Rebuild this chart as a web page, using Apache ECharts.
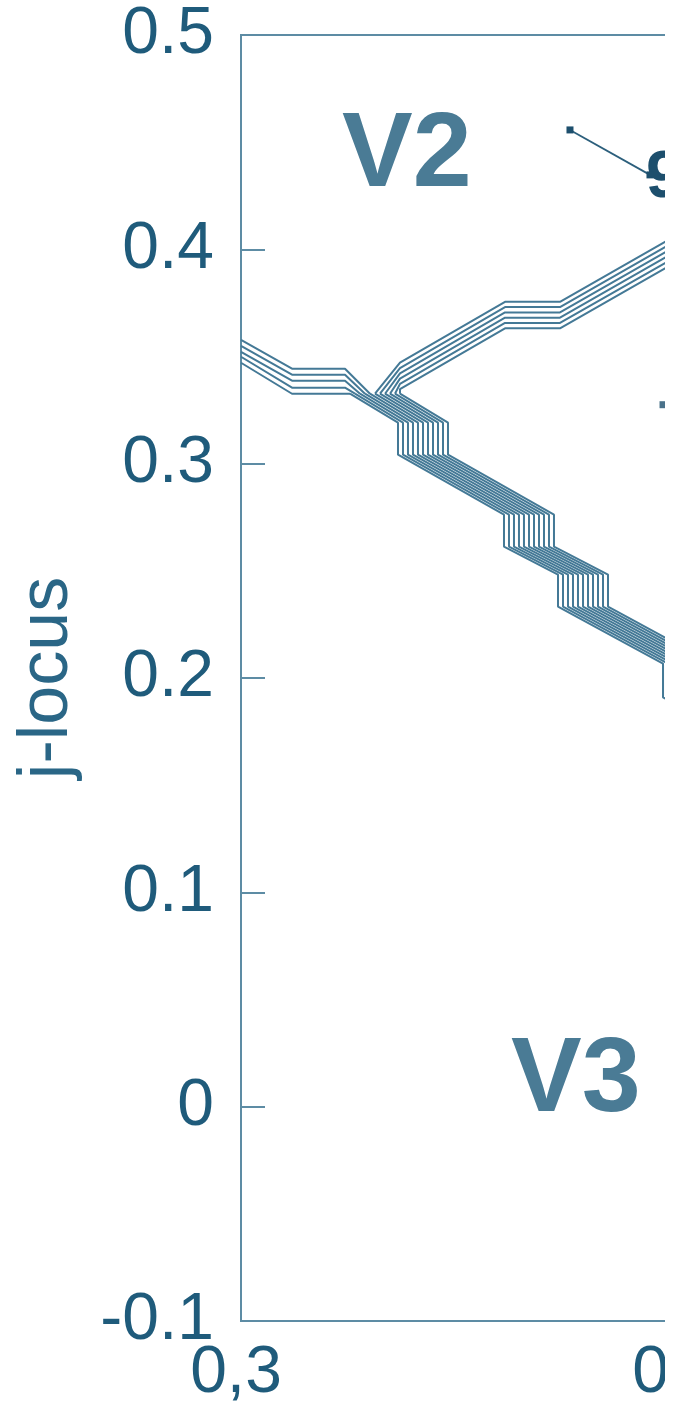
<!DOCTYPE html>
<html><head><meta charset="utf-8">
<script src="https://cdn.jsdelivr.net/npm/echarts@6/dist/echarts.min.js"></script>
<style>
html,body{margin:0;padding:0;background:#fff;}
#wrap{width:665px;height:1424px;overflow:hidden;position:absolute;left:0;top:0;background:#fff;}
#chart{width:1200px;height:1424px;}
</style>
</head><body><div id="wrap"><div id="chart"></div></div>
<script>
// ---- axis ticks ----
const xTicks = [0.3, 0.4, 0.5];
const xTickLabels = ['0,3', '0,4', '0,5'];
const yTicks = [-0.1, 0, 0.1, 0.2, 0.3, 0.4, 0.5];
const yTickLabels = ['-0.1', '0', '0.1', '0.2', '0.3', '0.4', '0.5'];

// ---- bundle A (upper-left branch, 5 curves) ----
const aStartY = [0.35781, 0.35501, 0.35221, 0.34988, 0.34709];
const aFlatX = [0.31154, 0.32353];
const aFlatY = [0.34429, 0.34149, 0.33869, 0.33543, 0.33263];

// ---- lower stepped band (11 curves, shifted horizontally) ----
const bandX = [0.32466, 0.33552, 0.33552, 0.35950, 0.35950, 0.37172, 0.37172, 0.39548, 0.39548, 0.40837];
const bandY = [0.33263, 0.31911, 0.30420, 0.27622, 0.26131, 0.24825, 0.23333, 0.20676, 0.19091, 0.17646];
const bandOffsetX = [0, 0.00113, 0.00226, 0.00339, 0.00452, 0.00566, 0.00679, 0.00792, 0.00905, 0.01018, 0.01131];

// ---- bundle B (rising branch, 6 curves) ----
const bX = [0.33597, 0.35973, 0.37217, 0.39593, 0.40837];
const bY = [0.34709, 0.37552, 0.37552, 0.40350, 0.41795];
const bOffsetY = [0, -0.00247, -0.00494, -0.00741, -0.00988, -0.01235];

// ---- callout ----
const calloutX = [0.37443, 0.39253];
const calloutY = [0.45571, 0.43473];
const calloutText = '9';
const strayPoint = [0.39548, 0.32751];

const LINE = '#447996';
const AXIS = '#5d8ca4';
const TXT = '#1f5b7b';

function bandStart(j) { return [bandX[0] + bandOffsetX[j], bandY[0]]; }

const series = [];
function addLine(pts) {
  series.push({
    type: 'line', data: pts, showSymbol: false, silent: true,
    lineStyle: { color: LINE, width: 2 }, z: 2
  });
}
for (let k = 0; k < aStartY.length; k++) {
  addLine([[0.3, aStartY[k]], [aFlatX[0], aFlatY[k]], [aFlatX[1], aFlatY[k]], bandStart(4 - k)]);
}
for (let j = 0; j < bandOffsetX.length; j++) {
  addLine(bandX.map((x, i) => [x + bandOffsetX[j], bandY[i]]));
}
for (let m = 0; m < bOffsetY.length; m++) {
  addLine([bandStart(5 + m)].concat(bX.map((x, i) => [x, bY[i] + bOffsetY[m]])));
}
series.push({
  type: 'line', data: calloutX.map((x, i) => [x, calloutY[i]]),
  symbol: 'rect', symbolSize: 7, showSymbol: true,
  itemStyle: { color: '#1d4f6d' }, lineStyle: { color: '#2c5f7c', width: 1.8 }, z: 3
});
series.push({
  type: 'scatter', data: [strayPoint], symbol: 'rect', symbolSize: 7,
  itemStyle: { color: '#1d4f6d' }, z: 3
});

const chart = echarts.init(document.getElementById('chart'));
chart.setOption({
  animation: false,
  backgroundColor: '#fff',
  grid: { left: 241, top: 35, width: 884, height: 1286, show: true, borderColor: AXIS, borderWidth: 2 },
  xAxis: {
    type: 'value', min: 0.3, max: 0.5, interval: 0.1,
    axisLine: { show: true, onZero: false, lineStyle: { color: AXIS, width: 2 } },
    axisTick: { show: true, inside: true, length: 24, lineStyle: { color: AXIS, width: 2 } },
    splitLine: { show: false },
    axisLabel: {
      margin: 20, color: TXT, fontSize: 66, fontFamily: 'Liberation Sans, Arial, sans-serif',
      padding: [0, 10, 0, 0],
      formatter: v => { const i = xTicks.findIndex(t => Math.abs(t - v) < 1e-9); return i >= 0 ? xTickLabels[i] : ''; }
    }
  },
  yAxis: {
    type: 'value', min: -0.1, max: 0.5, interval: 0.1,
    name: 'j-locus', nameLocation: 'middle', nameGap: 158, nameRotate: 90,
    nameTextStyle: { color: '#2a6686', fontSize: 70, fontFamily: 'Liberation Sans, Arial, sans-serif' },
    axisLine: { show: true, onZero: false, lineStyle: { color: AXIS, width: 2 } },
    axisTick: { show: true, inside: true, length: 24, lineStyle: { color: AXIS, width: 2 } },
    splitLine: { show: false },
    axisLabel: {
      margin: 27, color: TXT, fontSize: 66, fontFamily: 'Liberation Sans, Arial, sans-serif',
      formatter: v => { const i = yTicks.findIndex(t => Math.abs(t - v) < 1e-9); return i >= 0 ? yTickLabels[i] : ''; }
    }
  },
  graphic: [
    { type: 'text', left: 342, top: 104, style: { text: 'V2', fill: '#4a7b95', font: 'bold 106px "Liberation Sans", Arial, sans-serif' } },
    { type: 'text', left: 511, top: 1029, style: { text: 'V3', fill: '#4a7b95', font: 'bold 106px "Liberation Sans", Arial, sans-serif' } },
    { type: 'text', left: 646, top: 146, style: { text: calloutText, fill: '#1d4f6d', font: 'bold 66px "Liberation Sans", Arial, sans-serif' } }
  ],
  series: series
});
</script>
</body></html>
